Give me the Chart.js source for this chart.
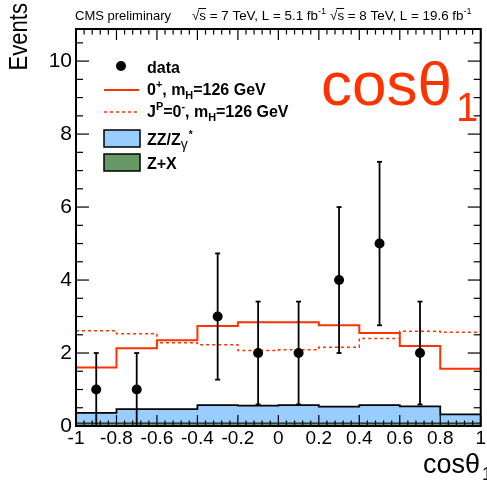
<!DOCTYPE html>
<html>
<head>
<meta charset="utf-8">
<script src="https://cdn.jsdelivr.net/npm/chart.js@4.4.1/dist/chart.umd.min.js"></script>
<style>
	html, body { margin: 0; padding: 0; background: #fff; }
	#wrap { width: 487px; height: 483px; }
</style>
</head>
<body>
<div id="wrap"><canvas id="c" width="487" height="483"></canvas></div>
<script>
(function () {
	'use strict';

	// --- Data ---
	var binEdges   = [-1, -0.8, -0.6, -0.4, -0.2, 0, 0.2, 0.4, 0.6, 0.8, 1];
	var binCenters = [-0.9, -0.7, -0.5, -0.3, -0.1, 0.1, 0.3, 0.5, 0.7, 0.9];
	var dataCounts = [1, 1, 0, 3, 2, 2, 4, 5, 2, 0];
	var errLow     = [0, 0, null, 1.27, 0.59, 0.59, 2.0, 2.76, 0.59, null];
	var errHigh    = [2, 2, null, 4.73, 3.41, 3.41, 6.0, 7.24, 3.41, null];
	var sig0plus   = [1.60, 2.13, 2.35, 2.74, 2.84, 2.84, 2.76, 2.55, 2.19, 1.57];
	var sig0minus  = [2.61, 2.53, 2.28, 2.23, 2.07, 2.09, 2.16, 2.40, 2.60, 2.57];
	var bkgZZ      = [0.36, 0.46, 0.46, 0.57, 0.56, 0.57, 0.53, 0.57, 0.54, 0.32];
	var bkgZX      = [0.08, 0.08, 0.08, 0.08, 0.08, 0.08, 0.08, 0.08, 0.08, 0.08];

	var xTicks      = [-1, -0.8, -0.6, -0.4, -0.2, 0, 0.2, 0.4, 0.6, 0.8, 1];
	var xTickLabels = ['-1', '-0.8', '-0.6', '-0.4', '-0.2', '0', '0.2', '0.4', '0.6', '0.8', '1'];
	var yTicks      = [0, 2, 4, 6, 8, 10];
	var yMax        = 10.88;

	var RED   = '#ff3300';
	var BLUE  = '#99ccff';
	var GREEN = '#669966';
	var FONT  = '"Liberation Sans", Arial, Helvetica, sans-serif';

	// histogram as stepped line: value at each left edge, last one repeated at x=1
	function steps(vals) {
		var pts = vals.map(function (v, i) { return { x: binEdges[i], y: v }; });
		pts.push({ x: binEdges[binEdges.length - 1], y: vals[vals.length - 1] });
		return pts;
	}

	var points = binCenters.map(function (c, i) { return { x: c, y: dataCounts[i] }; });

	// rich text with super/subscripts (and an overline for the sqrt)
	function rich(ctx, x, y, parts, size, weight) {
		parts.forEach(function (p) {
			var s = size, dy = 0;
			if (p.sup) { s = p.size || size * 0.68; dy = -size * 0.42; }
			if (p.sub) { s = p.size || size * 0.68; dy = size * 0.25; }
			ctx.font = (p.w || weight) + ' ' + s + 'px ' + FONT;
			var w = ctx.measureText(p.t).width;
			ctx.fillText(p.t, x + (p.dx || 0), y + dy);
			if (p.over) {
				ctx.save();
				ctx.lineWidth = 1;
				ctx.strokeStyle = ctx.fillStyle;
				line(ctx, x - 1, y - s * 0.86, x + w, y - s * 0.86);
				ctx.restore();
			}
			x += w + (p.dx || 0);
		});
		return x;
	}

	function line(ctx, x1, y1, x2, y2) {
		ctx.beginPath(); ctx.moveTo(x1, y1); ctx.lineTo(x2, y2); ctx.stroke();
	}

	var decor = {
		id: 'decor',
		afterDatasetsDraw: function (chart) {
			var ctx = chart.ctx, xs = chart.scales.x, ys = chart.scales.y;
			ctx.save();
			ctx.strokeStyle = '#000';
			ctx.lineWidth = 1.8;
			binCenters.forEach(function (c, i) {
				if (errLow[i] === null) return;
				var px = xs.getPixelForValue(c);
				var y1 = ys.getPixelForValue(errLow[i]), y2 = ys.getPixelForValue(errHigh[i]);
				line(ctx, px, y1, px, y2);
				line(ctx, px - 2.5, y2, px + 2.5, y2);
				if (errLow[i] > 0) line(ctx, px - 2.5, y1, px + 2.5, y1);
			});
			ctx.restore();
		},
		afterDraw: function (chart) {
			var ctx = chart.ctx, a = chart.chartArea, xs = chart.scales.x, ys = chart.scales.y;
			ctx.save();
			ctx.strokeStyle = '#000';

			// tick marks inside the frame, all four sides
			ctx.lineWidth = 1.2;
			for (var i = 0; i <= 50; i++) {
				var px = xs.getPixelForValue(-1 + i * 0.04);
				var lx = (i % 5 === 0) ? 11 : 5.5;
				line(ctx, px, a.bottom, px, a.bottom - lx);
				line(ctx, px, a.top, px, a.top + lx);
			}
			for (var j = 0; j * 0.5 <= yMax; j++) {
				var py = ys.getPixelForValue(j * 0.5);
				var ly = (j % 4 === 0) ? 13 : 7;
				line(ctx, a.left, py, a.left + ly, py);
				line(ctx, a.right, py, a.right - ly, py);
			}

			// frame
			ctx.lineWidth = 2;
			ctx.strokeRect(a.left, a.top, a.right - a.left, a.bottom - a.top);

			ctx.fillStyle = '#000';
			ctx.textBaseline = 'alphabetic';

			// header
			ctx.textAlign = 'left';
			ctx.font = '13px ' + FONT;
			ctx.fillText('CMS preliminary', 75, 20);
			var hx = rich(ctx, 192, 20, [{ t: '\u221a' }, { t: 's', over: true }, { t: ' = 7 TeV, L = 5.1 fb' }, { t: '-1', sup: true }], 13.4, 'normal');
			rich(ctx, hx + 4, 20, [{ t: '\u221a' }, { t: 's', over: true }, { t: ' = 8 TeV, L = 19.6 fb' }, { t: '-1', sup: true }], 13.4, 'normal');

			// y axis title
			ctx.save();
			ctx.translate(27, 3);
			ctx.rotate(-Math.PI / 2);
			ctx.scale(0.85, 1);
			ctx.textAlign = 'right';
			ctx.font = '26px ' + FONT;
			ctx.fillText('Events', 0, 0);
			ctx.restore();

			// x axis title
			ctx.textAlign = 'left';
			rich(ctx, 423, 473, [{ t: 'cos\u03b8' }, { t: '1', sub: true, size: 18, dx: 2 }], 27, 'normal');

			// big red label
			ctx.fillStyle = RED;
			rich(ctx, 321, 105, [{ t: 'cos\u03b8' }, { t: '1', size: 40, sub: true, dx: 4 }], 62, 'normal');

			// legend
			ctx.fillStyle = '#000';
			ctx.beginPath(); ctx.arc(121, 66, 5, 0, Math.PI * 2); ctx.fill();
			rich(ctx, 147, 73, [{ t: 'data' }], 16, 'bold');

			ctx.strokeStyle = RED; ctx.lineWidth = 2;
			line(ctx, 104, 90, 139, 90);
			rich(ctx, 147, 95, [{ t: '0' }, { t: '+', sup: true }, { t: ', m' }, { t: 'H', sub: true }, { t: '=126 GeV' }], 16, 'bold');

			ctx.lineWidth = 1.5; ctx.setLineDash([3, 3]);
			line(ctx, 104, 112, 139, 112);
			ctx.setLineDash([]);
			rich(ctx, 147, 117, [{ t: 'J' }, { t: 'P', sup: true }, { t: '=0' }, { t: '-', sup: true }, { t: ', m' }, { t: 'H', sub: true }, { t: '=126 GeV' }], 16, 'bold');

			ctx.strokeStyle = '#000'; ctx.lineWidth = 1.5;
			ctx.fillStyle = BLUE; ctx.fillRect(104, 130, 36, 17); ctx.strokeRect(104, 130, 36, 17);
			ctx.fillStyle = '#000';
			rich(ctx, 147, 145, [{ t: 'ZZ/Z' }, { t: '\u03b3', sub: true, w: 'normal', size: 14 }, { t: '*', sup: true, size: 10, dx: 1 }], 16, 'bold');

			ctx.fillStyle = GREEN; ctx.fillRect(104, 154, 36, 17); ctx.strokeRect(104, 154, 36, 17);
			ctx.fillStyle = '#000';
			rich(ctx, 147, 169, [{ t: 'Z+X' }], 16, 'bold');

			ctx.restore();
		}
	};

	var histLine = function (vals, color, width, extra) {
		var ds = {
			type: 'line',
			data: steps(vals),
			stepped: 'before',
			borderColor: color,
			borderWidth: width,
			pointRadius: 0,
			fill: false
		};
		Object.keys(extra || {}).forEach(function (k) { ds[k] = extra[k]; });
		return ds;
	};

	new Chart(document.getElementById('c'), {
		type: 'scatter',
		data: {
			datasets: [
				{
					label: 'data',
					data: points,
					pointRadius: function (c) { return c.raw && c.raw.y > 0 ? 5 : 0; },
					pointBackgroundColor: '#000',
					pointBorderWidth: 0,
					showLine: false,
					order: 0
				},
				histLine(sig0plus, RED, 2, { label: '0+', order: 1 }),
				histLine(sig0minus, RED, 1.5, { label: '0-', borderDash: [3, 3], order: 2 }),
				histLine(bkgZX, '#000', 1, { label: 'Z+X', fill: 'origin', backgroundColor: GREEN, order: 3 }),
				histLine(bkgZZ, '#000', 1.8, { label: 'ZZ', fill: 'origin', backgroundColor: BLUE, order: 4 })
			]
		},
		options: {
			responsive: false,
			animation: false,
			devicePixelRatio: 1,
			layout: { padding: { top: 29, right: 4, left: 0, bottom: 0 } },
			plugins: { legend: { display: false }, tooltip: { enabled: false } },
			scales: {
				x: {
					type: 'linear', min: -1, max: 1,
					afterBuildTicks: function (s) { s.ticks = xTicks.map(function (v) { return { value: v }; }); },
					afterFit: function (s) { s.height = 57; },
					grid: { display: false, drawTicks: false },
					border: { display: false },
					ticks: {
						autoSkip: false, maxRotation: 0, minRotation: 0, padding: 1,
						color: '#000', font: { family: FONT, size: 19 },
						callback: function (v, i) { return xTickLabels[i]; }
					}
				},
				y: {
					type: 'linear', min: 0, max: yMax,
					afterBuildTicks: function (s) { s.ticks = yTicks.map(function (v) { return { value: v }; }); },
					afterFit: function (s) { s.width = 76; },
					grid: { display: false, drawTicks: false },
					border: { display: false },
					ticks: { padding: 4, color: '#000', font: { family: FONT, size: 21 } }
				}
			}
		},
		plugins: [decor]
	});
})();
</script>
</body>
</html>
